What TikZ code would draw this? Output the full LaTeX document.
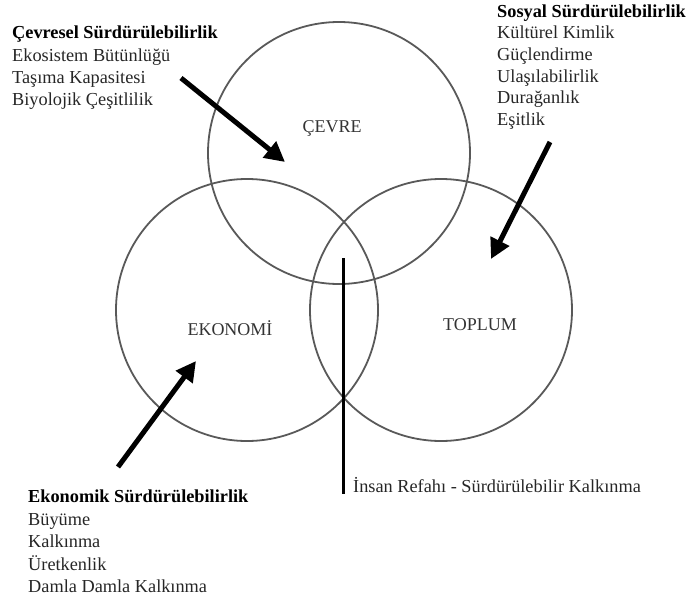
\documentclass[tikz,border=0pt]{standalone}
\usepackage{fontspec}
\setmainfont{Liberation Serif}
\usetikzlibrary{arrows.meta}
\begin{document}
\begin{tikzpicture}[x=1pt,y=-1pt,
  ring/.style={circle, draw=black!65, line width=1.8pt, minimum size=262pt, inner sep=0pt},
  txt/.style={anchor=base west, inner sep=0pt, font=\fontsize{18.3}{22}\selectfont, text=black!85},
  hdr/.style={anchor=base west, inner sep=0pt, font=\fontsize{18.3}{22}\selectfont\bfseries, text=black},
  lbl/.style={anchor=base, inner sep=0pt, font=\fontsize{18}{22}\selectfont, text=black!80},
  bigarrow/.style={line width=5pt, -{Triangle[length=20pt,width=20pt]}}]
\useasboundingbox (0,0) rectangle (689,605);
% circles
\node[ring] (cevre) at (339,153) {};
\node[ring] (ekonomi) at (247,310) {};
\node[ring] (toplum) at (441,310) {};
% circle labels
\node[lbl] (lcevre) at (332,132) {ÇEVRE};
\node[lbl] (lekonomi) at (230,335) {EKONOMİ};
\node[lbl] (ltoplum) at (480,330) {TOPLUM};
% Çevresel block
\node[hdr] (c0) at (12,38) {Çevresel Sürdürülebilirlik};
\node[txt] (c1) at (12,61) {Ekosistem Bütünlüğü};
\node[txt] (c2) at (12,83) {Taşıma Kapasitesi};
\node[txt] (c3) at (12,105) {Biyolojik Çeşitlilik};
% Sosyal block
\node[hdr] (s0) at (497,17) {Sosyal Sürdürülebilirlik};
\node[txt] (s1) at (497,38) {Kültürel Kimlik};
\node[txt] (s2) at (497,60) {Güçlendirme};
\node[txt] (s3) at (497,82) {Ulaşılabilirlik};
\node[txt] (s4) at (497,103) {Durağanlık};
\node[txt] (s5) at (497,125) {Eşitlik};
% Ekonomik block
\node[hdr] (e0) at (28,502) {Ekonomik Sürdürülebilirlik};
\node[txt] (e1) at (28,525) {Büyüme};
\node[txt] (e2) at (28,547) {Kalkınma};
\node[txt] (e3) at (28,570) {Üretkenlik};
\node[txt] (e4) at (28,592) {Damla Damla Kalkınma};
% Insan refahi
\node[txt] (insan) at (353,492) {İnsan Refahı - Sürdürülebilir Kalkınma};
% arrows
\coordinate (a1s) at (181,78);
\coordinate (a1e) at (285,162);
\coordinate (a2s) at (550,142);
\coordinate (a2e) at (491,259);
\coordinate (a3s) at (118,467);
\coordinate (a3e) at (196,361);
\draw[bigarrow] (a1s) -- (a1e);
\draw[bigarrow] (a2s) -- (a2e);
\draw[bigarrow] (a3s) -- (a3e);
% vertical line
\coordinate (vtop) at (343,258);
\coordinate (vbot) at (343,494);
\draw[line width=3pt] (vtop) -- (vbot);
\end{tikzpicture}
\end{document}
